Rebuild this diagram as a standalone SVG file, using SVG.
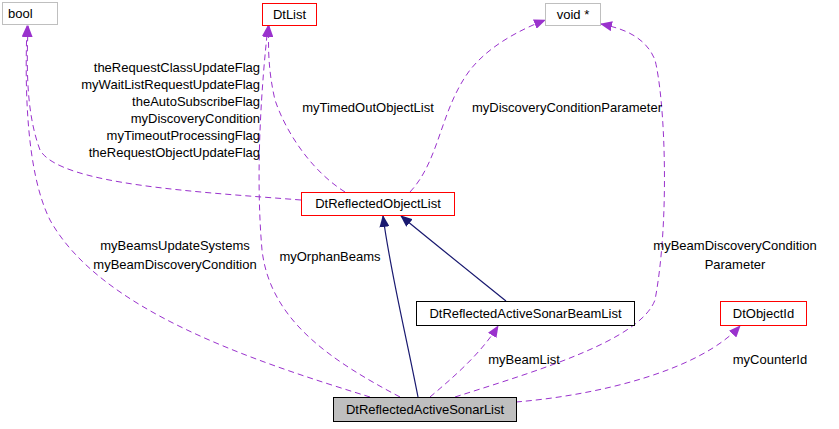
<svg xmlns="http://www.w3.org/2000/svg" width="839" height="429" viewBox="0 0 839 429">
<style>
text{font-family:"Liberation Sans",Arial,sans-serif;font-size:13px;fill:#000}
.n{fill:#fff;stroke-width:1}
.d{fill:none;stroke:#9a32cd;stroke-dasharray:6,4;stroke-width:1}
.s{fill:none;stroke:#191970;stroke-width:1.2}
</style>
<defs>
<marker id="p" markerWidth="12" markerHeight="10" refX="11" refY="5" orient="auto" markerUnits="userSpaceOnUse"><path d="M0,0L12,5L0,10z" fill="#9a32cd"/></marker>
<marker id="b" markerWidth="12" markerHeight="10" refX="11" refY="5" orient="auto" markerUnits="userSpaceOnUse"><path d="M0,0L12,5L0,10z" fill="#191970"/></marker>
</defs>
<g id="connectors">
<path class="d" marker-end="url(#p)" d="M301,200C200,192 60,185 40,150C25,110 27,60 28,26"/>
<path class="d" marker-end="url(#p)" d="M345,192C310,170 285,130 275,100C268,70 268,45 269,26"/>
<path class="d" marker-end="url(#p)" d="M410,192C440,160 440,110 470,70C490,45 520,30 545,20"/>
<path class="s" marker-end="url(#b)" d="M418,397C405,330 390,270 383,216"/>
<path class="s" marker-end="url(#b)" d="M506,301C470,272 430,240 401,216"/>
<path class="d" marker-end="url(#p)" d="M370,397C250,360 100,310 50,220C25,170 25,80 27,26"/>
<path class="d" marker-end="url(#p)" d="M400,397C330,360 270,320 262,250C255,170 262,80 268,26"/>
<path class="d" marker-end="url(#p)" d="M430,397C450,380 480,355 498,326"/>
<path class="d" marker-end="url(#p)" d="M455,397C540,370 640,340 655,300C670,220 665,100 655,60C645,35 620,28 601,24"/>
<path class="d" marker-end="url(#p)" d="M516,402C600,395 700,370 740,326"/>
</g>
<g id="labels">
<text text-anchor="end" x="260" y="72">theRequestClassUpdateFlag</text>
<text text-anchor="end" x="260" y="89">myWaitListRequestUpdateFlag</text>
<text text-anchor="end" x="260" y="106">theAutoSubscribeFlag</text>
<text text-anchor="end" x="260" y="123">myDiscoveryCondition</text>
<text text-anchor="end" x="260" y="140">myTimeoutProcessingFlag</text>
<text text-anchor="end" x="260" y="157">theRequestObjectUpdateFlag</text>
<text text-anchor="middle" x="368" y="112">myTimedOutObjectList</text>
<text text-anchor="middle" x="567" y="112">myDiscoveryConditionParameter</text>
<text text-anchor="middle" x="175" y="250">myBeamsUpdateSystems</text>
<text text-anchor="middle" x="175" y="269">myBeamDiscoveryCondition</text>
<text text-anchor="middle" x="330" y="261">myOrphanBeams</text>
<text text-anchor="middle" x="524" y="364">myBeamList</text>
<text text-anchor="middle" x="735" y="250">myBeamDiscoveryCondition</text>
<text text-anchor="middle" x="735" y="269">Parameter</text>
<text text-anchor="middle" x="770" y="364">myCounterId</text>
</g>
<g id="bool"><rect class="n" x="2.5" y="2.5" width="55" height="22" stroke="#bfbfbf"/><text x="8" y="18">bool</text></g>
<g id="DtList"><rect class="n" x="262.5" y="3.5" width="54" height="22" stroke="#ff0000"/><text text-anchor="middle" x="289.5" y="19">DtList</text></g>
<g id="void"><rect class="n" x="545.5" y="3.5" width="55" height="22" stroke="#bfbfbf"/><text text-anchor="middle" x="573" y="19">void *</text></g>
<g id="DtReflectedObjectList"><rect class="n" x="301.5" y="192.5" width="153" height="23" stroke="#ff0000"/><text text-anchor="middle" x="378" y="208">DtReflectedObjectList</text></g>
<g id="DtReflectedActiveSonarBeamList"><rect class="n" x="416.5" y="301.5" width="218" height="24" stroke="#000"/><text text-anchor="middle" x="525.5" y="318">DtReflectedActiveSonarBeamList</text></g>
<g id="DtObjectId"><rect class="n" x="720.5" y="301.5" width="86" height="24" stroke="#ff0000"/><text text-anchor="middle" x="763.5" y="318">DtObjectId</text></g>
<g id="DtReflectedActiveSonarList"><rect x="333.5" y="397.5" width="183" height="24" fill="#bfbfbf" stroke="#000"/><text text-anchor="middle" x="425" y="414">DtReflectedActiveSonarList</text></g>
</svg>
